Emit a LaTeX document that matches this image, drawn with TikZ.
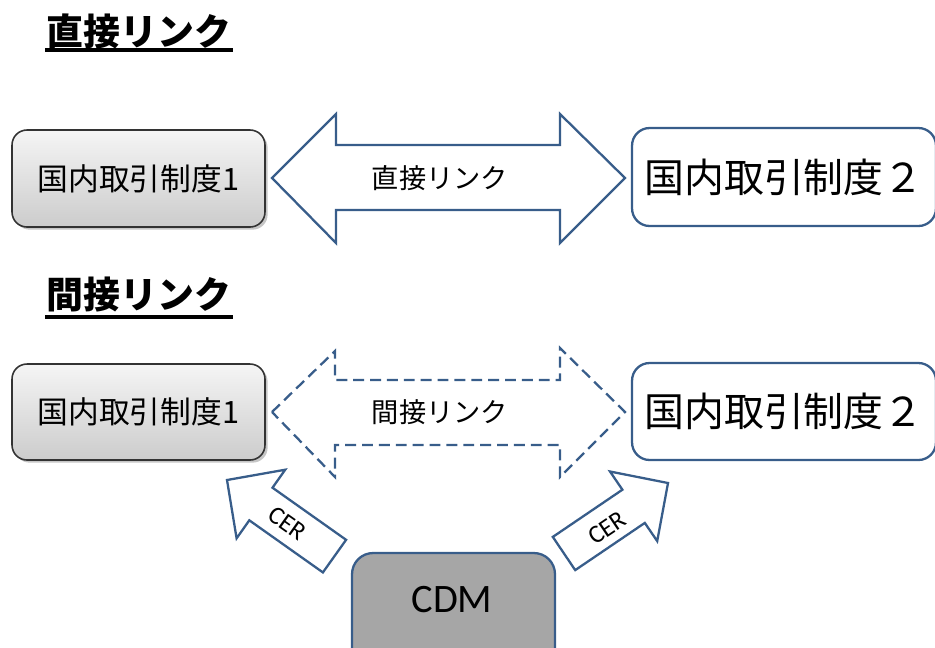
\documentclass[tikz,border=0pt]{standalone}
\usepackage{fontspec}
\usetikzlibrary{shadows}
\newfontfamily\jp{Noto Sans CJK JP}
\newfontfamily\lat{Carlito}
\definecolor{bord}{HTML}{385D8A}
\tikzset{
  title/.style={font=\jp\bfseries\fontsize{21}{24}\selectfont, inner sep=0pt},
  ul/.style={line width=1.8pt, black},
  graybox/.style={draw=black!80, line width=0.9pt, rounded corners=8.5pt,
    top color=black!4, bottom color=black!20, minimum width=5.06cm,
    drop shadow={shadow xshift=1.5pt, shadow yshift=-1.5pt, opacity=0.45},
    font=\jp\fontsize{17.5}{20}\selectfont, inner sep=0pt},
  whitebox/.style={draw=bord, line width=1.3pt, rounded corners=10pt, fill=white,
    minimum width=6.08cm, font=\jp\fontsize{22.7}{26}\selectfont, inner sep=0pt},
  blockarrow/.style={draw=bord, line width=1.3pt, fill=white, line join=miter},
  dasharrow/.style={draw=bord, line width=1.3pt, dash pattern=on 6.2pt off 3.4pt},
  arrowtext/.style={font=\jp\fontsize{15.5}{18}\selectfont, inner sep=0pt},
  certext/.style={font=\lat\fontsize{14.5}{17}\selectfont, inner sep=0pt},
}
\begin{document}
\begin{tikzpicture}[x=0.02cm, y=-0.02cm]
\useasboundingbox (0,0) rectangle (935,647);
\clip (0,0) rectangle (935,647);
% titles
\node[title] (t1) at (139,31) {直接リンク};
\draw[ul] (45,50) -- (233,50);
\node[title] (t2) at (139,295) {間接リンク};
\draw[ul] (45,317) -- (233,317);
% top row
\node[graybox, minimum height=1.94cm] (a1) at (138.5,178.5) {国内取引制度1};
\node[whitebox, minimum height=1.96cm] (b1) at (784,177) {国内取引制度２};
\draw[blockarrow] (272,178) -- (336,114) -- (336,145) -- (560,145) -- (560,114)
  -- (625,178) -- (560,243) -- (560,210) -- (336,210) -- (336,243) -- cycle;
\node[arrowtext] (l1) at (440,178) {直接リンク};
% bottom row
\node[graybox, minimum height=1.92cm] (a2) at (138.5,412) {国内取引制度1};
\node[whitebox, minimum height=1.94cm] (b2) at (784,411.5) {国内取引制度２};
\draw[dasharrow] (272,412) -- (335,351) -- (335,380) -- (560,380) -- (560,348)
  -- (625,412) -- (560,477) -- (560,445) -- (335,445) -- (335,477) -- cycle;
\node[arrowtext] (l2) at (440,412) {間接リンク};
% CDM
\node[draw=bord, line width=1.3pt, rounded corners=12pt, fill=black!35,
  minimum width=4.06cm, minimum height=2.94cm, inner sep=0pt] (cdmbox) at (453.5,626.5) {};
\node[font=\lat\fontsize{23}{26}\selectfont, inner sep=0pt] (cdm) at (452,600) {CDM};
% CER arrows
\draw[blockarrow] (227,480) -- (285.2,469.7) -- (272.5,487.7) -- (346.1,539.8)
  -- (322.9,572.4) -- (249.3,520.3) -- (236.6,538.3) -- cycle;
\node[certext, rotate=-35.3] (cer1) at (287,523) {CER};
\draw[blockarrow] (668,483) -- (657.2,541.1) -- (644.8,522.9) -- (575.2,570.1)
  -- (552.8,536.9) -- (622.4,489.7) -- (610.0,471.5) -- cycle;
\node[certext, rotate=34.1] (cer2) at (607,528) {CER};
\end{tikzpicture}
\end{document}
